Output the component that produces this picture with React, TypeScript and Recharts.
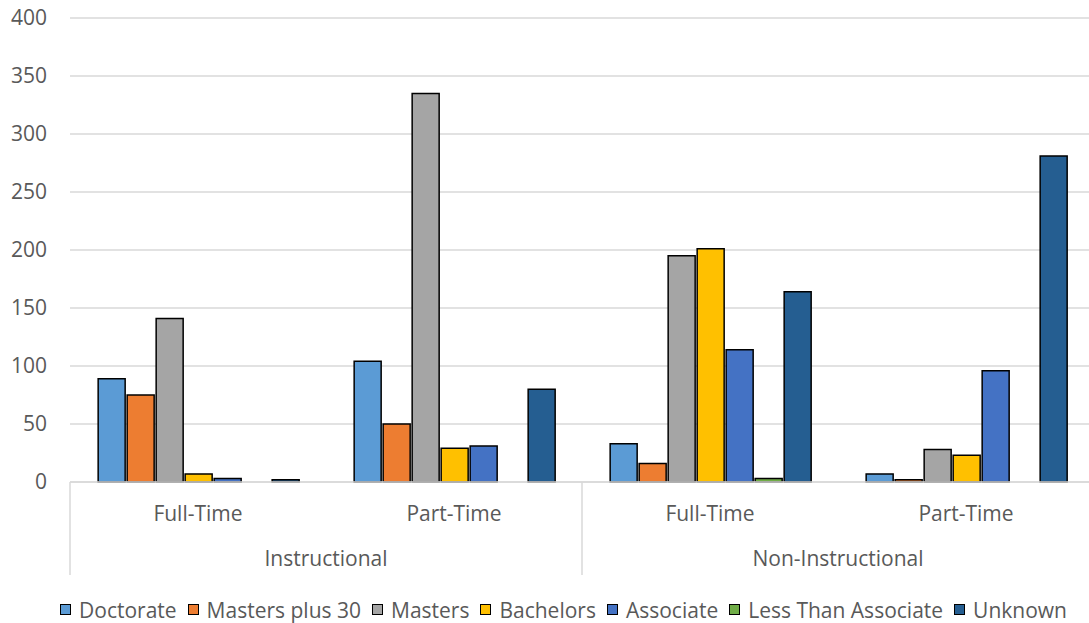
import React from 'react';
import { BarChart, Bar, XAxis, YAxis, CartesianGrid, Legend } from 'recharts';

const subGroups = ['Full-Time', 'Part-Time', 'Full-Time', 'Part-Time'];
const mainGroups = ['Instructional', 'Instructional', 'Non-Instructional', 'Non-Instructional'];

const doctorate = [89, 104, 33, 7];
const mastersPlus30 = [75, 50, 16, 2];
const masters = [141, 335, 195, 28];
const bachelors = [7, 29, 201, 23];
const associate = [3, 31, 114, 96];
const lessThanAssociate = [0, 0, 3, 0];
const unknown = [2, 80, 164, 281];

const yTicks = [0, 50, 100, 150, 200, 250, 300, 350, 400];

const series = [
  { key: 'doctorate', name: 'Doctorate', color: '#5B9BD5', values: doctorate },
  { key: 'mastersPlus30', name: 'Masters plus 30', color: '#ED7D31', values: mastersPlus30 },
  { key: 'masters', name: 'Masters', color: '#A5A5A5', values: masters },
  { key: 'bachelors', name: 'Bachelors', color: '#FFC000', values: bachelors },
  { key: 'associate', name: 'Associate', color: '#4472C4', values: associate },
  { key: 'lessThanAssociate', name: 'Less Than Associate', color: '#70AD47', values: lessThanAssociate },
  { key: 'unknown', name: 'Unknown', color: '#255E91', values: unknown },
];

const data = subGroups.map((sub, i) => {
  const row: Record<string, string | number> = { sub, main: mainGroups[i] };
  series.forEach(s => {
    row[s.key] = s.values[i];
  });
  return row;
});

const FONT = '"Open Sans", sans-serif';
const TEXT = '#595959';
const LINE = '#d9d9d9';

const GroupTick = (props: any) => {
  const { x, y, payload } = props;
  const idx = payload.index;
  const half = payload.offset;
  const lineBottom = y + 93;
  return (
    <g>
      <text x={x} y={y + 31} textAnchor="middle" dominantBaseline="central" fill={TEXT} fontSize={21} fontFamily={FONT}>
        {payload.value}
      </text>
      {idx % 2 === 0 && (
        <>
          <line x1={x - half} y1={y} x2={x - half} y2={lineBottom} stroke={LINE} strokeWidth={1.5} />
          <text x={x + half} y={y + 76} textAnchor="middle" dominantBaseline="central" fill={TEXT} fontSize={21} fontFamily={FONT}>
            {mainGroups[idx]}
          </text>
        </>
      )}
      {idx === subGroups.length - 1 && (
        <line x1={x + half} y1={y} x2={x + half} y2={lineBottom} stroke={LINE} strokeWidth={1.5} />
      )}
    </g>
  );
};

const LegendContent = () => (
  <div
    style={{
      display: 'flex',
      justifyContent: 'center',
      alignItems: 'center',
      height: 30,
      paddingLeft: 44,
      paddingTop: 3,
      boxSizing: 'border-box',
      fontFamily: FONT,
      fontSize: 21,
      color: TEXT,
      whiteSpace: 'nowrap',
    }}
  >
    {series.map(s => (
      <span key={s.key} style={{ display: 'inline-flex', alignItems: 'center', marginRight: 11 }}>
        <span
          style={{
            display: 'inline-block',
            width: 9,
            height: 9,
            background: s.color,
            border: '1.5px solid #000',
            marginRight: 8,
          }}
        />
        {s.name}
      </span>
    ))}
  </div>
);

export default function App() {
  return (
    <div style={{ position: 'absolute', left: 0, top: 0, width: 1089, height: 623, overflow: 'hidden', background: '#fff' }}>
      <BarChart
        width={1094}
        height={623}
        data={data}
        margin={{ top: 18, right: 0, bottom: 0, left: 0 }}
        barCategoryGap="11%"
        barGap={2}
      >
        <CartesianGrid vertical={false} stroke={LINE} strokeWidth={1.5} />
        <XAxis
          dataKey="sub"
          height={111}
          tickLine={false}
          tickSize={0}
          tickMargin={0}
          axisLine={{ stroke: LINE, strokeWidth: 1.5 }}
          interval={0}
          tick={<GroupTick />}
        />
        <YAxis
          width={70}
          domain={[0, 400]}
          ticks={yTicks}
          axisLine={false}
          tickLine={false}
          tickSize={0}
          tickMargin={23}
          tick={{ fill: TEXT, fontSize: 21, fontFamily: FONT }}
        />
        <Legend verticalAlign="bottom" content={<LegendContent />} />
        {series.map(s => (
          <Bar
            key={s.key}
            dataKey={s.key}
            name={s.name}
            fill={s.color}
            stroke="#000"
            strokeWidth={1.5}
            isAnimationActive={false}
          />
        ))}
      </BarChart>
    </div>
  );
}
